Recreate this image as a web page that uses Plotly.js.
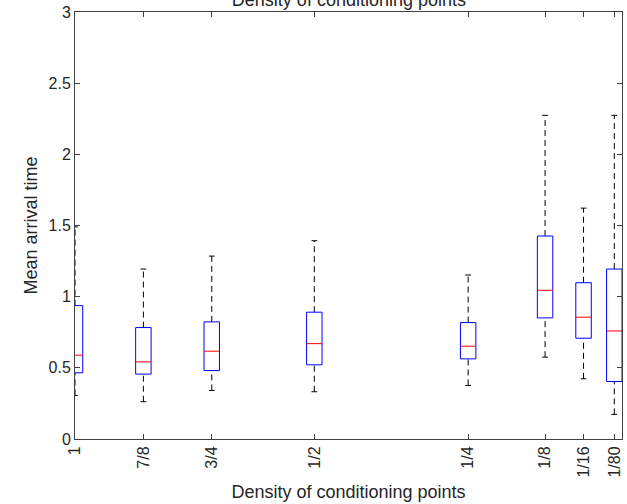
<!DOCTYPE html>
<html>
<head>
<meta charset="utf-8">
<script src="https://cdn.plot.ly/plotly-3.0.1.min.js"></script>
<style>html,body{margin:0;padding:0;background:#fff;}#chart{width:627px;height:504px;}</style>
</head>
<body>
<div id="chart"></div>
<script>
// Category labels (density of conditioning points)
const categories = ['1', '7/8', '3/4', '1/2', '1/4', '1/8', '1/16', '1/80'];
// Box-plot statistics (mean arrival time)
const lowerWhisker = [0.306, 0.262, 0.341, 0.332, 0.376, 0.575, 0.423, 0.173];
const q1           = [0.465, 0.456, 0.481, 0.521, 0.563, 0.851, 0.708, 0.404];
const medians      = [0.589, 0.542, 0.617, 0.670, 0.652, 1.045, 0.856, 0.759];
const q3           = [0.937, 0.783, 0.823, 0.891, 0.818, 1.426, 1.098, 1.194];
const upperWhisker = [1.490, 1.194, 1.285, 1.393, 1.152, 2.274, 1.622, 2.274];
// Box positions along the x axis
const positions = [0, 1, 2, 3.5, 5.75, 6.875, 7.4375, 7.8875];
const yTicks = [0, 0.5, 1, 1.5, 2, 2.5, 3];
const yTickText = ['0', '0.5', '1', '1.5', '2', '2.5', '3'];

const boxHalf = 0.113;
const capHalf = 0.042;

const boxX = [], boxY = [], medX = [], medY = [], whX = [], whY = [], capX = [], capY = [];
positions.forEach((p, i) => {
  boxX.push(p - boxHalf, p + boxHalf, p + boxHalf, p - boxHalf, p - boxHalf, null);
  boxY.push(q1[i], q1[i], q3[i], q3[i], q1[i], null);
  medX.push(p - boxHalf, p + boxHalf, null);
  medY.push(medians[i], medians[i], null);
  whX.push(p, p, null, p, p, null);
  whY.push(q3[i], upperWhisker[i], null, lowerWhisker[i], q1[i], null);
  capX.push(p - capHalf, p + capHalf, null, p - capHalf, p + capHalf, null);
  capY.push(upperWhisker[i], upperWhisker[i], null, lowerWhisker[i], lowerWhisker[i], null);
});

const traces = [
  {x: whX, y: whY, mode: 'lines', line: {color: '#000000', width: 1, dash: '6px,4px'}, hoverinfo: 'skip', showlegend: false},
  {x: capX, y: capY, mode: 'lines', line: {color: '#000000', width: 1}, hoverinfo: 'skip', showlegend: false},
  {x: boxX, y: boxY, mode: 'lines', line: {color: '#0000ff', width: 1}, hoverinfo: 'skip', showlegend: false},
  {x: medX, y: medY, mode: 'lines', line: {color: '#ff0000', width: 1}, hoverinfo: 'skip', showlegend: false}
];

const fam = 'Liberation Sans, Arial, sans-serif';
const axisFont = {family: fam, size: 16, color: '#262626'};
const titleFont = {family: fam, size: 18, color: '#262626'};
const layout = {
  width: 627, height: 504,
  margin: {l: 75, r: 5, t: 12, b: 65, pad: 0},
  paper_bgcolor: '#ffffff', plot_bgcolor: '#ffffff',
  font: axisFont,
  showlegend: false,
  title: {text: 'Density of conditioning points', font: titleFont,
          x: 0.5565, xanchor: 'center', xref: 'container', y: 0.988, yanchor: 'bottom', yref: 'container'},
  xaxis: {
    range: [0, 8], tickmode: 'array', tickvals: positions, ticktext: categories, tickangle: -90,
    ticks: 'inside', ticklen: 5, tickcolor: '#404040', showline: true, linecolor: '#404040', linewidth: 1,
    mirror: 'ticks', showgrid: false, zeroline: false, tickfont: axisFont,
    title: {text: 'Density of conditioning points', font: titleFont, standoff: 8}
  },
  yaxis: {
    range: [0, 3], tickmode: 'array', tickvals: yTicks, ticktext: yTickText,
    ticks: 'inside', ticklen: 5, tickcolor: '#404040', showline: true, linecolor: '#404040', linewidth: 1,
    mirror: 'ticks', showgrid: false, zeroline: false, tickfont: axisFont,
    title: {text: 'Mean arrival time', font: titleFont, standoff: 6}
  }
};

Plotly.newPlot('chart', traces, layout, {displayModeBar: false, staticPlot: true});
</script>
</body>
</html>
